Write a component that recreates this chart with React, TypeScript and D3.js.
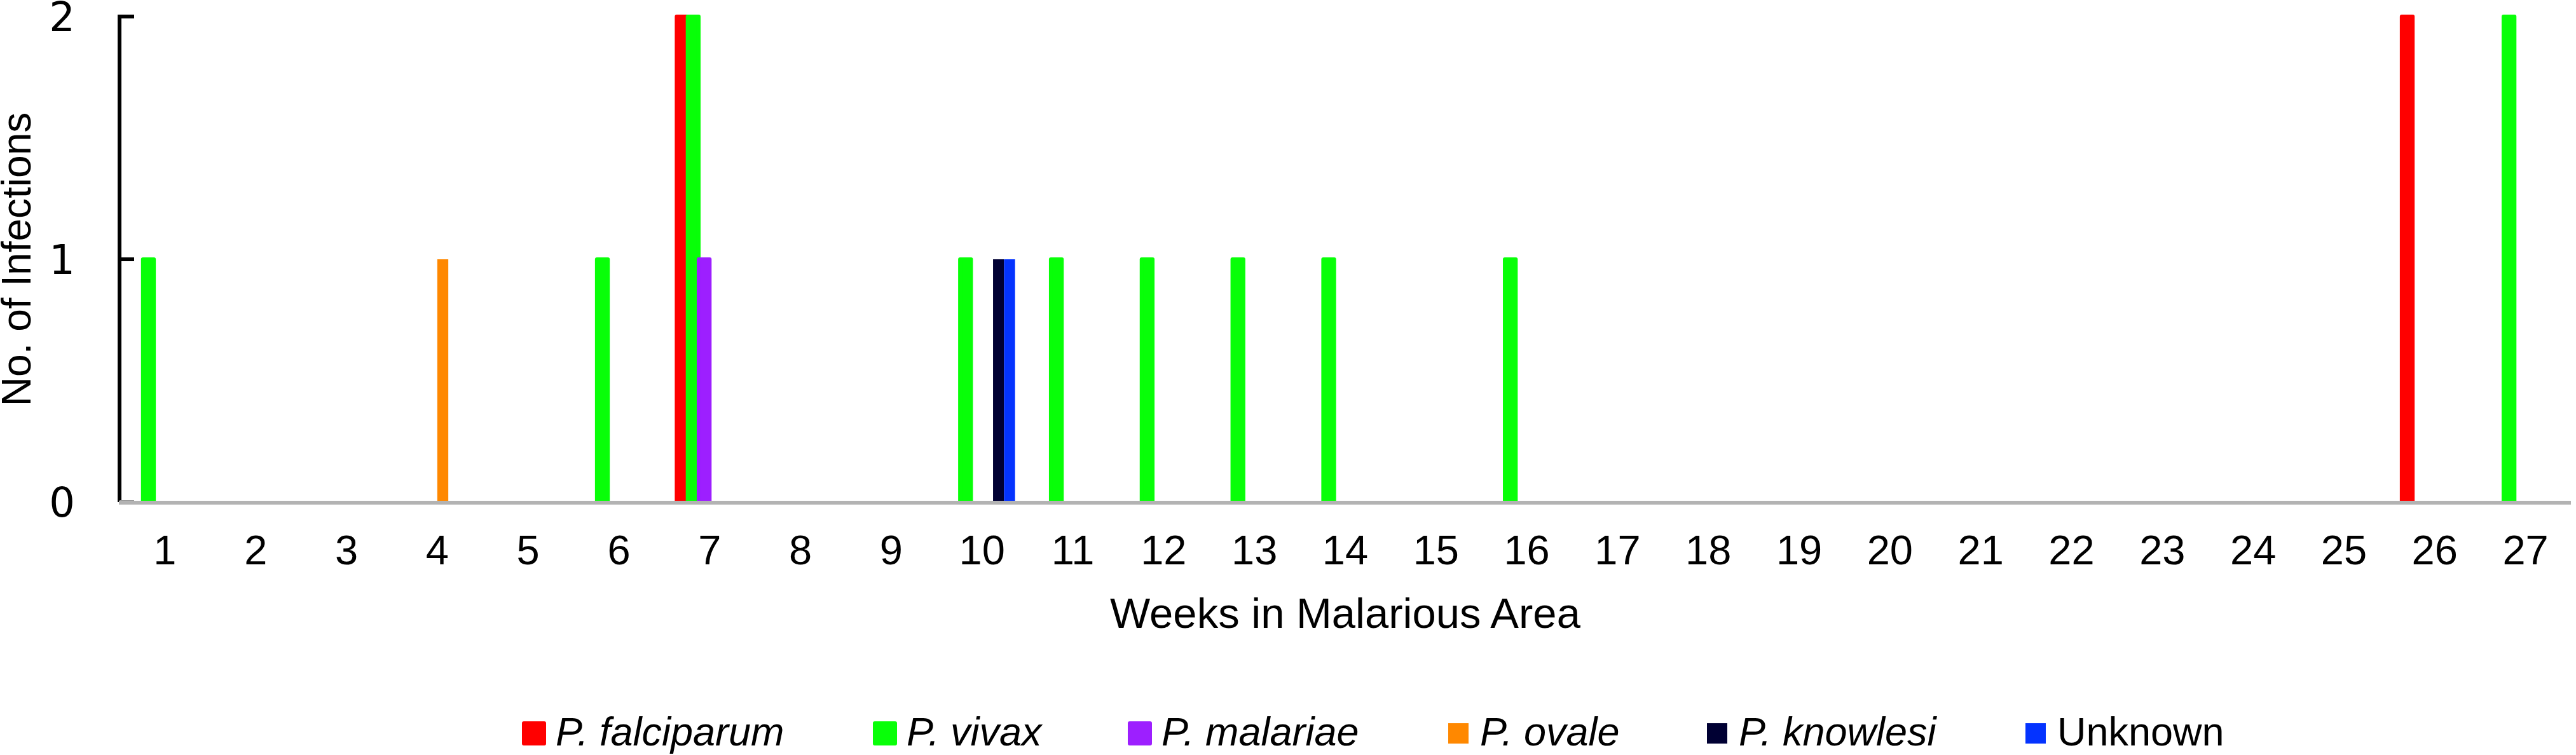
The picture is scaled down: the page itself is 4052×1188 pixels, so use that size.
import React, { useEffect } from "react";
import * as d3 from "d3";

const weeks = ["1","2","3","4","5","6","7","8","9","10","11","12","13","14","15","16","17","18","19","20","21","22","23","24","25","26","27"];
const seriesNames = ["P. falciparum", "P. vivax", "P. malariae", "P. ovale", "P. knowlesi", "Unknown"];
const falciparum = [0,0,0,0,0,0,2,0,0,0,0,0,0,0,0,0,0,0,0,0,0,0,0,0,0,2,0];
const vivax      = [1,0,0,0,0,1,2,0,0,1,1,1,1,1,0,1,0,0,0,0,0,0,0,0,0,0,2];
const malariae   = [0,0,0,0,0,0,1,0,0,0,0,0,0,0,0,0,0,0,0,0,0,0,0,0,0,0,0];
const ovale      = [0,0,0,1,0,0,0,0,0,0,0,0,0,0,0,0,0,0,0,0,0,0,0,0,0,0,0];
const knowlesi   = [0,0,0,0,0,0,0,0,0,1,0,0,0,0,0,0,0,0,0,0,0,0,0,0,0,0,0];
const unknown    = [0,0,0,0,0,0,0,0,0,1,0,0,0,0,0,0,0,0,0,0,0,0,0,0,0,0,0];
const yTicks = [0, 1, 2];

const seriesValues = [falciparum, vivax, malariae, ovale, knowlesi, unknown];
const colors = ["#ff0000", "#08ff08", "#9d1fff", "#ff8800", "#000033", "#0433ff"];
const outlined = [true, true, true, false, false, false];
const italic = [true, true, true, true, true, false];
const legendX = [824, 1376, 1777, 2278, 2685, 3186];

const W = 4052, H = 1188;
const left = 188, right = 4044, top = 26, bottom = 790;

export default function App() {
  useEffect(() => {
    document.body.style.margin = "0";
  }, []);

  const x0 = d3.scaleBand<string>().domain(weeks).range([left, right]).paddingInner(0.273).paddingOuter(0.1365);
  const x1 = d3.scaleBand<number>().domain(d3.range(seriesNames.length)).range([0, x0.bandwidth()]);
  const y = d3.scaleLinear().domain([0, 2]).range([bottom, top]);

  const font = "'Liberation Sans', Arial, sans-serif";

  return (
    <svg width={W} height={H} style={{ display: "block", background: "#fff" }}>
      {/* bars */}
      {weeks.map((w, i) => (
        <g key={w}>
          {seriesValues.map((vals, s) => {
            const v = vals[i];
            if (!v) return null;
            const bx = (x0(w) as number) + (x1(s) as number);
            return (
              <rect
                key={s}
                x={bx}
                y={y(v)}
                width={x1.bandwidth()}
                height={y(0) - y(v)}
                fill={colors[s]}
                stroke={outlined[s] ? colors[s] : "none"}
                strokeWidth={outlined[s] ? 6 : 0}
                strokeLinejoin="round"
              />
            );
          })}
        </g>
      ))}

      {/* y axis */}
      <line x1={left} x2={left} y1={y(2) - 3} y2={y(0)} stroke="#000" strokeWidth={6} />
      {yTicks.map((t) => (
        <g key={t}>
          <line x1={left} x2={left + 23} y1={y(t)} y2={y(t)} stroke={t === 0 ? "#999" : "#000"} strokeWidth={6} />
          <text x={118} y={y(t)} dy="0.36em" textAnchor="end" fontFamily="'DejaVu Sans', sans-serif" fontSize={64} fill="#000">
            {t}
          </text>
        </g>
      ))}

      {/* x axis */}
      <line x1={left - 1} x2={right} y1={bottom + 1} y2={bottom + 1} stroke="#b3b3b3" strokeWidth={6} />
      {weeks.map((w) => (
        <text key={w} x={(x0(w) as number) + x0.bandwidth() / 2} y={888} textAnchor="middle" fontFamily={font} fontSize={65} fill="#000">
          {w}
        </text>
      ))}

      {/* axis titles */}
      <text x={(left + right) / 2} y={988} textAnchor="middle" fontFamily={font} fontSize={67} fill="#000">
        Weeks in Malarious Area
      </text>
      <text transform={`translate(48, ${(top + bottom) / 2}) rotate(-90)`} textAnchor="middle" fontFamily={font} fontSize={64} fill="#000">
        No. of Infections
      </text>

      {/* legend */}
      {seriesNames.map((name, s) => (
        <g key={name}>
          <rect
            x={legendX[s]}
            y={1138}
            width={32}
            height={32}
            fill={colors[s]}
            stroke={outlined[s] ? colors[s] : "none"}
            strokeWidth={outlined[s] ? 6 : 0}
            strokeLinejoin="round"
          />
          <text x={legendX[s] + 50} y={1173} fontFamily={font} fontSize={63} fontStyle={italic[s] ? "italic" : "normal"} fill="#000">
            {name}
          </text>
        </g>
      ))}
    </svg>
  );
}
